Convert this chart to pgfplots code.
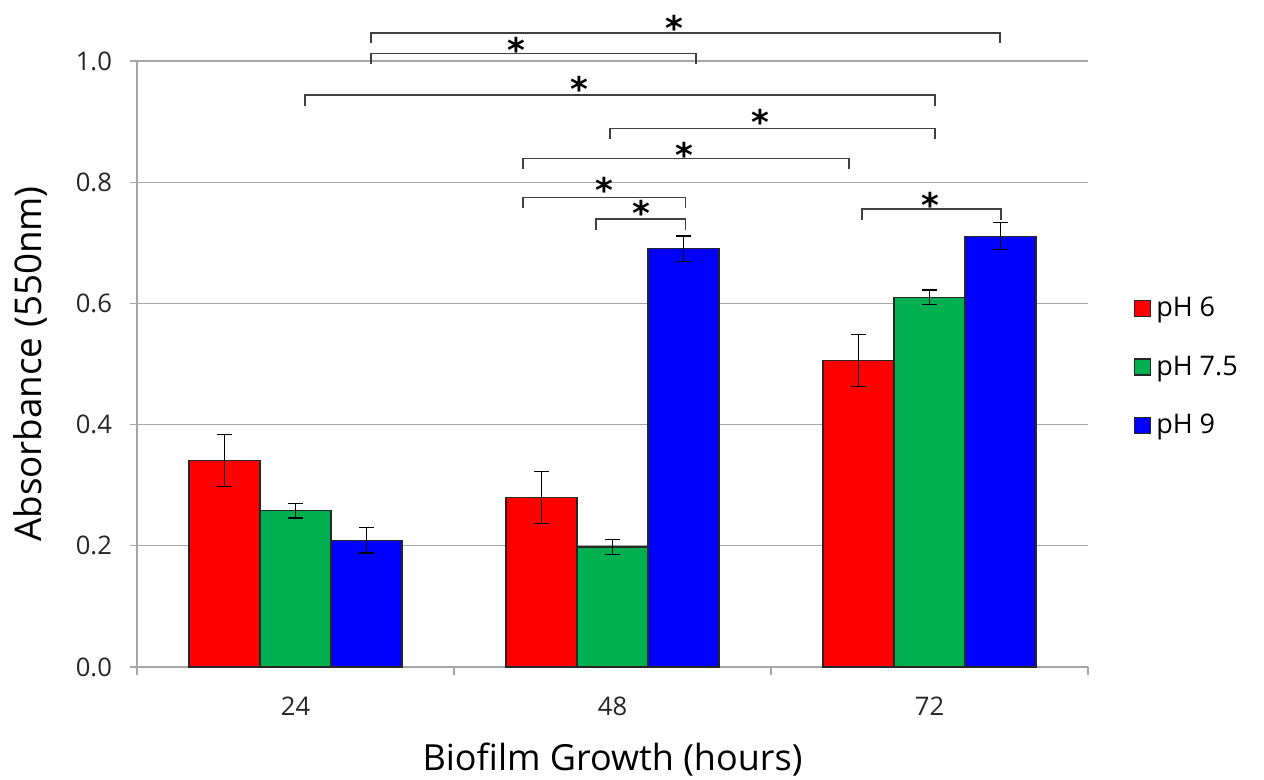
\documentclass[border=0pt]{standalone}
\usepackage{fontspec}
\setmainfont{Open Sans}
\newfontfamily\starfont{DejaVu Sans}
\usepackage{pgfplots}
\pgfplotsset{compat=1.18}
\definecolor{barred}{HTML}{FF0000}
\definecolor{bargreen}{HTML}{00B050}
\definecolor{barblue}{HTML}{0000FF}
\definecolor{gridgray}{HTML}{A6A6A6}
\definecolor{brk}{HTML}{404040}
\tikzset{
  sig/.style={draw=brk, line width=0.75pt},
  star/.style={font=\starfont\bfseries\fontsize{17}{17}\selectfont, anchor=base, yshift=-10pt, inner sep=0pt},
}
\begin{document}
\begin{tikzpicture}
\useasboundingbox (-68.5pt,-56.5pt) rectangle (563.5pt,333.5pt);
\begin{axis}[
  scale only axis, width=475.5pt, height=303pt,
  at={(0,0)}, anchor=south west,
  clip=false,
  xmin=-0.5, xmax=2.5, ymin=0, ymax=1,
  ybar=0pt, bar width=35.5pt,
  axis lines*=left,
  axis line style={gridgray, line width=0.6pt},
  tick align=outside,
  xtick={0,1,2}, xticklabels={24,48,72},
  major x tick style={draw=none},
  minor xtick={-0.5,0.5,1.5,2.5},
  minor tick length=4pt,
  minor x tick style={gridgray, line width=0.6pt},
  ytick={0,0.2,0.4,0.6,0.8,1.0},
  major tick length=3.5pt,
  y tick style={gridgray, line width=0.6pt},
  ymajorgrids, grid style={gridgray, line width=0.6pt},
  /pgf/number format/fixed, /pgf/number format/fixed zerofill, /pgf/number format/precision=1,
  /pgf/number format/assume math mode=true,
  tick label style={font=\fontsize{12.8}{14}\selectfont, color=black!85},
  yticklabel style={xshift=-5.5pt},
  xticklabel style={yshift=-8pt},
  xlabel={Biofilm Growth (hours)},
  ylabel={Absorbance (550nm)},
  xlabel style={at={(axis description cs:0.5,-0.153)}, anchor=center, font=\fontsize{18}{21}\selectfont},
  ylabel style={at={(axis description cs:-0.1125,0.5)}, anchor=center, font=\fontsize{18.4}{21}\selectfont},
  legend style={at={(axis description cs:1.048,0.495)}, anchor=west, draw=none, fill=none,
    font=\fontsize{13.5}{15}\selectfont, row sep=13pt, inner sep=0pt,
    nodes={inner sep=2.5pt}},
  legend cell align=left,
  legend image code/.code={\draw[#1, draw=black!85, line width=0.6pt] (0pt,-4pt) rectangle (8pt,4pt);},
  error bars/error bar style={black, line width=0.7pt},
  error bars/error mark options={rotate=90, mark size=3.75pt, line width=0.7pt, black},
]
\addplot[fill=barred, draw=black!85, line width=0.6pt,
  error bars/.cd, y dir=both, y explicit]
  coordinates {(0,0.341) +- (0,0.043) (1,0.280) +- (0,0.043) (2,0.506) +- (0,0.043)};
\addplot[fill=bargreen, draw=black!85, line width=0.6pt,
  error bars/.cd, y dir=both, y explicit]
  coordinates {(0,0.258) +- (0,0.012) (1,0.198) +- (0,0.012) (2,0.610) +- (0,0.012)};
\addplot[fill=barblue, draw=black!85, line width=0.6pt,
  error bars/.cd, y dir=both, y explicit]
  coordinates {(0,0.209) +- (0,0.021) (1,0.690) +- (0,0.021) (2,0.711) +- (0,0.022)};
\legend{pH 6, pH 7.5, pH 9}

% significance brackets
\draw[sig] (axis cs:0.238,1.029) -- (axis cs:0.238,1.0465) -- (axis cs:2.222,1.0465) -- (axis cs:2.222,1.029);
\node[star] at (axis cs:1.194,1.066) {*};
\draw[sig] (axis cs:0.238,0.995) -- (axis cs:0.238,1.0124) -- (axis cs:1.263,1.0124) -- (axis cs:1.263,0.995);
\node[star] at (axis cs:0.698,1.031) {*};
\draw[sig] (axis cs:0.030,0.926) -- (axis cs:0.030,0.944) -- (axis cs:2.017,0.944) -- (axis cs:2.017,0.926);
\node[star] at (axis cs:0.896,0.966) {*};
\draw[sig] (axis cs:0.992,0.871) -- (axis cs:0.992,0.889) -- (axis cs:2.017,0.889) -- (axis cs:2.017,0.871);
\node[star] at (axis cs:1.468,0.911) {*};
\draw[sig] (axis cs:0.718,0.821) -- (axis cs:0.718,0.839) -- (axis cs:1.746,0.839) -- (axis cs:1.746,0.821);
\node[star] at (axis cs:1.228,0.857) {*};
\draw[sig] (axis cs:0.718,0.757) -- (axis cs:0.718,0.775) -- (axis cs:1.231,0.775) -- (axis cs:1.231,0.757);
\node[star] at (axis cs:0.974,0.799) {*};
\draw[sig] (axis cs:0.948,0.721) -- (axis cs:0.948,0.739) -- (axis cs:1.231,0.739) -- (axis cs:1.231,0.721);
\node[star] at (axis cs:1.091,0.761) {*};
\draw[sig] (axis cs:1.787,0.738) -- (axis cs:1.787,0.756) -- (axis cs:2.226,0.756) -- (axis cs:2.226,0.738);
\node[star] at (axis cs:2.002,0.775) {*};
\end{axis}
\end{tikzpicture}
\end{document}
